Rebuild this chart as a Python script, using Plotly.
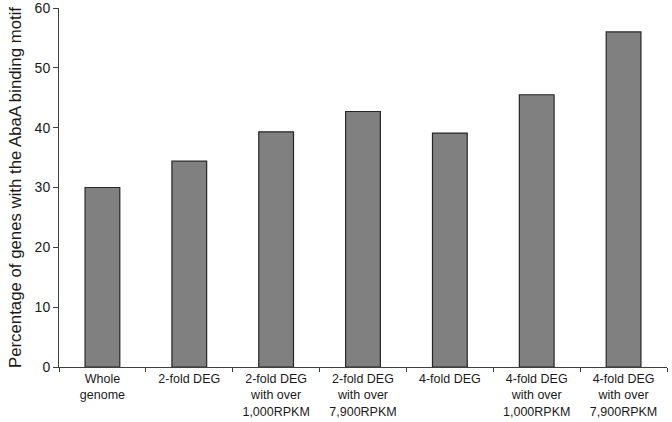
import plotly.graph_objects as go

categories = ["Whole<br>genome", "2-fold DEG", "2-fold DEG<br>with over<br>1,000RPKM",
              "2-fold DEG<br>with over<br>7,900RPKM", "4-fold DEG",
              "4-fold DEG<br>with over<br>1,000RPKM", "4-fold DEG<br>with over<br>7,900RPKM"]
values = [30.0, 34.4, 39.3, 42.7, 39.1, 45.5, 56.0]
y_ticks = [0, 10, 20, 30, 40, 50, 60]

fig = go.Figure(go.Bar(
    x=categories, y=values,
    marker=dict(color="#808080", line=dict(color="#262626", width=1.2)),
    width=0.4,
))

fig.update_layout(
    width=672, height=422,
    margin=dict(l=59, r=5, t=8, b=55),
    plot_bgcolor="white", paper_bgcolor="white",
    font=dict(family="Arial, Liberation Sans, sans-serif", color="#1a1a1a"),
    showlegend=False,
)
fig.update_xaxes(
    showline=True, linecolor="#404040", linewidth=1,
    ticks="outside", ticklen=4, tickcolor="#404040", tickson="boundaries",
    tickfont=dict(size=12.5), showgrid=False, automargin=False,
)
fig.update_yaxes(
    range=[0, 60], tickvals=y_ticks,
    showline=True, linecolor="#404040", linewidth=1,
    ticks="outside", ticklen=5, tickcolor="#404040",
    tickfont=dict(size=14), showgrid=False, zeroline=False, automargin=False,
    ticklabeloverflow="allow",
    title=dict(text="Percentage of genes with the AbaA binding motif", font=dict(size=16.8), standoff=8),
)

fig.write_html("out.html", config={"displayModeBar": False},
               post_script="document.body.style.margin='0';document.body.style.padding='0';")
